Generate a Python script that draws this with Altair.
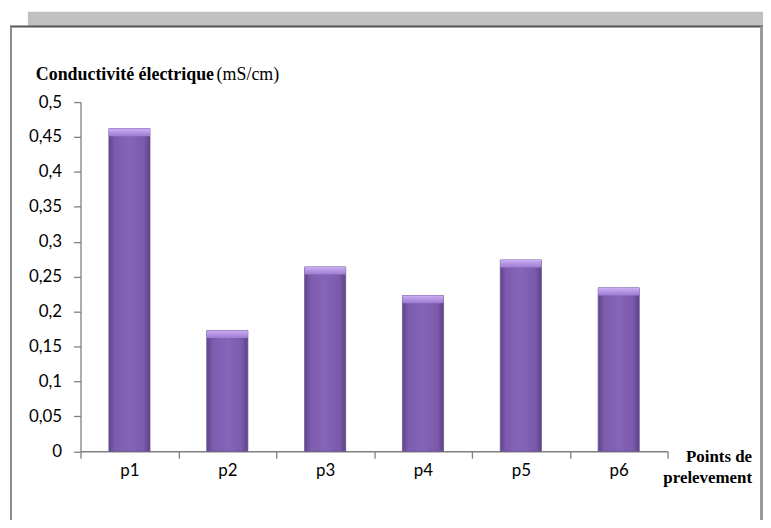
import altair as alt
import pandas as pd

points = ["p1", "p2", "p3", "p4", "p5", "p6"]
conductivite = [0.462, 0.173, 0.264, 0.223, 0.274, 0.234]
y_ticks = [0, 0.05, 0.1, 0.15, 0.2, 0.25, 0.3, 0.35, 0.4, 0.45, 0.5]
title_bold = "Conductivité électrique"
title_unit = "(mS/cm)"
x_title = ["Points de", "prelevement"]

df = pd.DataFrame({"point": points, "ce": conductivite})
one = pd.DataFrame({"k": [0]})

W, H = 591, 351.5
AX = "#7F7F7F"

x_enc = alt.X(
    "point:N", sort=points,
    scale=alt.Scale(paddingInner=0, paddingOuter=0),
    axis=alt.Axis(title=None, tickBand="extent", labelAngle=0, labelFont="Lato",
                  labelFontSize=17, labelColor="black", labelPadding=4,
                  domainColor=AX, tickColor=AX, tickSize=7, tickWidth=1.3,
                  domainWidth=1.3, ticks=True),
)
y_enc = alt.Y(
    "ce:Q", scale=alt.Scale(domain=[0, 0.5], nice=False, zero=True),
    axis=alt.Axis(title=None, values=y_ticks, grid=False, labelOverlap=False,
                  labelExpr="replace(toString(datum.value), '.', ',')",
                  labelFont="Lato", labelFontSize=17, labelColor="black",
                  labelPadding=12, domainColor=AX, tickColor=AX, tickSize=7,
                  tickWidth=1.3, domainWidth=1.3, ticks=True),
)

body = alt.Gradient(
    gradient="linear", x1=0, x2=1, y1=0, y2=0,
    stops=[alt.GradientStop(color="#5F4689", offset=0),
           alt.GradientStop(color="#7D5CB0", offset=0.15),
           alt.GradientStop(color="#8664B8", offset=0.5),
           alt.GradientStop(color="#7B5AAD", offset=0.85),
           alt.GradientStop(color="#5C4384", offset=1)],
)
cap = alt.Gradient(
    gradient="linear", x1=0, x2=0, y1=0, y2=1,
    stops=[alt.GradientStop(color="#CBAEF5", offset=0),
           alt.GradientStop(color="#9C7BD0", offset=1)],
)

BARW = {"band": 0.42}
base = alt.Chart(df).transform_calculate(top2="datum.ce - 0.011")
bars = base.mark_bar(color=body, stroke="#6A5294", strokeWidth=0.8, width=BARW).encode(
    x=x_enc, y=y_enc)
caps = base.mark_bar(color=cap, width=BARW).encode(x=x_enc, y=y_enc, y2="top2:Q")

band = alt.Chart(one).mark_rect(color="#C0C0C0").encode(
    x=alt.value(-53), x2=alt.value(690), y=alt.value(-91), y2=alt.value(-76))
topline = alt.Chart(one).mark_rect(color="#555555").encode(
    x=alt.value(-71), x2=alt.value(687), y=alt.value(-77), y2=alt.value(-75))
leftline = alt.Chart(one).mark_rect(color="#8A8A8A").encode(
    x=alt.value(-71), x2=alt.value(-69), y=alt.value(-76), y2=alt.value(430))
rightline = alt.Chart(one).mark_rect(color="#9A9A9A").encode(
    x=alt.value(684), x2=alt.value(687), y=alt.value(-76), y2=alt.value(430))

t1 = alt.Chart(one).mark_text(text=title_bold, font="Liberation Serif", fontWeight="bold",
                              fontSize=18, align="left", baseline="alphabetic",
                              color="black").encode(x=alt.value(-45), y=alt.value(-22))
t2 = alt.Chart(one).mark_text(text=title_unit, font="Liberation Serif", fontSize=18,
                              align="left", baseline="alphabetic",
                              color="black").encode(x=alt.value(137), y=alt.value(-22))
xt1 = alt.Chart(one).mark_text(text=x_title[0], font="Liberation Serif", fontWeight="bold",
                               fontSize=17, align="right", baseline="alphabetic",
                               color="black").encode(x=alt.value(676), y=alt.value(362))
xt2 = alt.Chart(one).mark_text(text=x_title[1], font="Liberation Serif", fontWeight="bold",
                               fontSize=17, align="right", baseline="alphabetic",
                               color="black").encode(x=alt.value(676), y=alt.value(383))

chart = alt.layer(band, topline, leftline, rightline, bars, caps, t1, t2, xt1, xt2).properties(
    width=W, height=H,
    padding={"left": 73, "top": 93, "right": 96, "bottom": 67},
    autosize=alt.AutoSizeParams(type="none"),
    background="white",
).configure_view(stroke=None)

chart.save("out.html", embed_options={"renderer": "svg", "actions": False})
